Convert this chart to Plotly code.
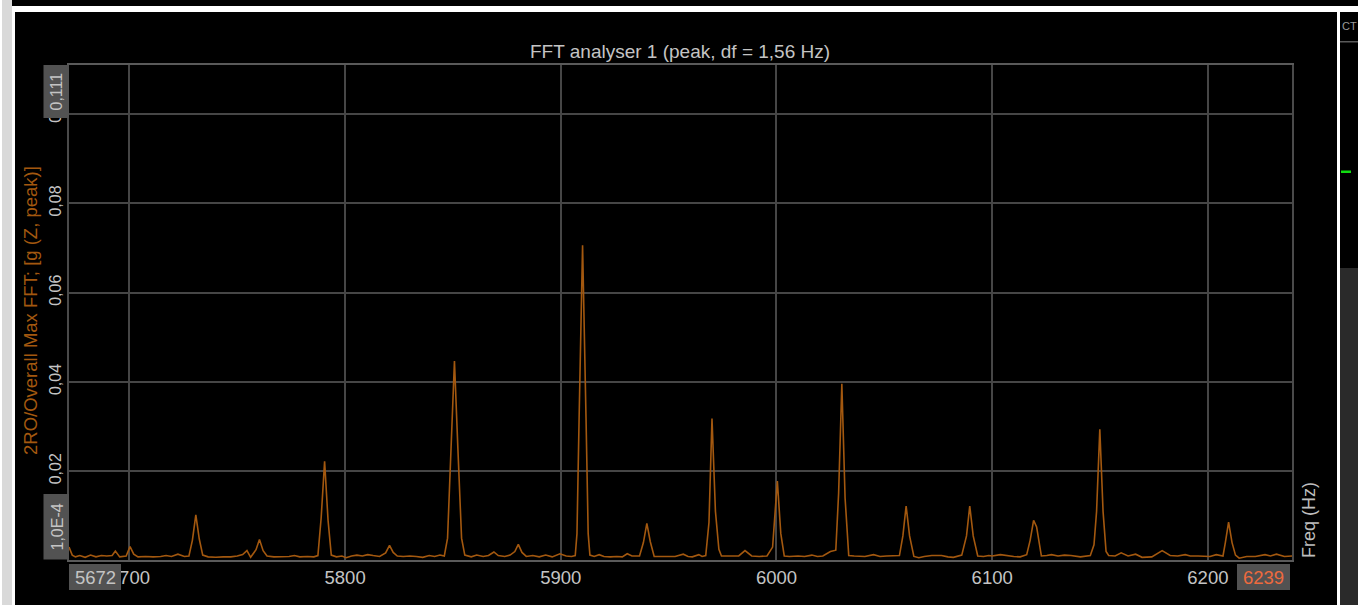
import plotly.graph_objects as go

# ---------------- data ----------------
freq_hz = [
    5672.0, 5673.5, 5675.0, 5677.0, 5679.5, 5682.0, 5684.5, 5687.0, 5689.5, 5692.0,
    5693.5, 5695.5, 5698.5, 5700.3, 5702.0, 5704.0, 5707.5, 5711.0, 5714.5, 5717.0,
    5719.5, 5722.5, 5725.5, 5727.6, 5729.2, 5730.8, 5732.4, 5734.0, 5736.5, 5740.0,
    5743.5, 5747.0, 5750.0, 5752.5, 5754.5, 5756.2, 5758.7, 5760.3, 5762.0, 5763.8,
    5767.0, 5770.5, 5774.0, 5776.5, 5779.0, 5782.5, 5785.5, 5787.4, 5788.9, 5790.5,
    5792.1, 5793.6, 5796.0, 5798.5, 5800.5, 5803.0, 5805.5, 5808.0, 5810.5, 5813.0,
    5816.0, 5818.8, 5820.6, 5822.3, 5824.2, 5827.0, 5830.0, 5833.0, 5836.0, 5839.0,
    5841.5, 5844.0, 5846.0, 5847.5, 5849.1, 5850.7, 5852.3, 5854.0, 5855.5, 5858.5,
    5861.0, 5864.0, 5866.5, 5869.0, 5871.0, 5874.0, 5876.5, 5878.7, 5880.3, 5882.0,
    5884.0, 5887.0, 5890.0, 5893.0, 5896.0, 5899.6, 5902.5, 5905.0, 5906.7, 5907.5,
    5908.5, 5910.1, 5911.7, 5912.7, 5913.5, 5915.5, 5917.8, 5920.0, 5923.0, 5926.0,
    5928.5, 5930.8, 5933.0, 5936.5, 5938.3, 5939.9, 5941.5, 5943.3, 5946.5, 5950.0,
    5953.0, 5956.8, 5959.0, 5961.0, 5964.0, 5965.5, 5967.2, 5968.7, 5970.1, 5971.7,
    5973.3, 5974.5, 5978.0, 5982.5, 5985.4, 5988.5, 5992.0, 5995.6, 5998.2, 6000.4,
    6002.0, 6003.6, 6006.0, 6010.0, 6013.0, 6016.4, 6019.0, 6021.5, 6025.0, 6027.5,
    6028.8, 6030.3, 6031.8, 6033.5, 6036.0, 6039.0, 6041.0, 6045.0, 6048.0, 6051.0,
    6055.8, 6057.0, 6058.6, 6060.1, 6061.7, 6063.7, 6066.0, 6068.5, 6072.0, 6076.5,
    6079.5, 6082.0, 6085.9, 6088.1, 6089.6, 6091.2, 6093.3, 6096.0, 6098.4, 6100.0,
    6103.8, 6107.5, 6110.0, 6113.0, 6116.0, 6117.6, 6119.2, 6120.6, 6122.8, 6125.3,
    6127.5, 6130.5, 6133.5, 6136.5, 6140.9, 6145.5, 6147.2, 6148.4, 6149.9, 6151.4,
    6152.8, 6154.0, 6157.0, 6159.8, 6163.0, 6166.5, 6169.5, 6174.0, 6178.8, 6182.5,
    6186.0, 6189.5, 6191.8, 6195.5, 6199.0, 6201.0, 6203.9, 6207.0, 6208.1, 6209.6,
    6211.2, 6212.8, 6214.5, 6218.0, 6222.0, 6226.5, 6229.0, 6231.8, 6235.5, 6239.0,
]

amp_g = [
    0.0030, 0.0012, 0.0008, 0.0011, 0.0007, 0.0012, 0.0008, 0.0011, 0.0010, 0.0011,
    0.0021, 0.0008, 0.0010, 0.0031, 0.0014, 0.0008, 0.0009, 0.0008, 0.0009, 0.0011,
    0.0009, 0.0014, 0.0009, 0.0010, 0.0045, 0.0102, 0.0048, 0.0012, 0.0008, 0.0007,
    0.0008, 0.0008, 0.0010, 0.0013, 0.0022, 0.0007, 0.0024, 0.0047, 0.0022, 0.0010,
    0.0008, 0.0008, 0.0009, 0.0011, 0.0008, 0.0009, 0.0008, 0.0011, 0.0095, 0.0222,
    0.0090, 0.0012, 0.0008, 0.0010, 0.0006, 0.0010, 0.0012, 0.0010, 0.0013, 0.0011,
    0.0009, 0.0017, 0.0034, 0.0018, 0.0010, 0.0009, 0.0010, 0.0009, 0.0007, 0.0011,
    0.0009, 0.0012, 0.0010, 0.0050, 0.0250, 0.0447, 0.0250, 0.0050, 0.0012, 0.0008,
    0.0012, 0.0009, 0.0011, 0.0019, 0.0011, 0.0009, 0.0012, 0.0020, 0.0036, 0.0018,
    0.0009, 0.0011, 0.0008, 0.0012, 0.0008, 0.0015, 0.0010, 0.0009, 0.0011, 0.0060,
    0.0320, 0.0706, 0.0320, 0.0060, 0.0012, 0.0009, 0.0013, 0.0009, 0.0008, 0.0009,
    0.0008, 0.0015, 0.0010, 0.0010, 0.0040, 0.0083, 0.0042, 0.0009, 0.0009, 0.0009,
    0.0009, 0.0014, 0.0009, 0.0008, 0.0013, 0.0009, 0.0011, 0.0085, 0.0318, 0.0110,
    0.0025, 0.0010, 0.0010, 0.0010, 0.0022, 0.0010, 0.0009, 0.0010, 0.0030, 0.0178,
    0.0060, 0.0010, 0.0009, 0.0010, 0.0009, 0.0012, 0.0009, 0.0010, 0.0020, 0.0023,
    0.0150, 0.0396, 0.0140, 0.0011, 0.0010, 0.0009, 0.0009, 0.0013, 0.0009, 0.0010,
    0.0012, 0.0011, 0.0055, 0.0122, 0.0055, 0.0009, 0.0006, 0.0009, 0.0011, 0.0011,
    0.0008, 0.0007, 0.0012, 0.0055, 0.0122, 0.0055, 0.0010, 0.0009, 0.0011, 0.0010,
    0.0013, 0.0010, 0.0009, 0.0008, 0.0013, 0.0045, 0.0090, 0.0075, 0.0010, 0.0011,
    0.0013, 0.0010, 0.0012, 0.0011, 0.0008, 0.0011, 0.0035, 0.0110, 0.0294, 0.0110,
    0.0020, 0.0011, 0.0010, 0.0017, 0.0010, 0.0014, 0.0007, 0.0008, 0.0022, 0.0011,
    0.0010, 0.0013, 0.0010, 0.0010, 0.0010, 0.0009, 0.0013, 0.0010, 0.0040, 0.0086,
    0.0040, 0.0012, 0.0005, 0.0009, 0.0009, 0.0013, 0.0010, 0.0014, 0.0009, 0.0010,
]

x_tick_vals = [5700, 5800, 5900, 6000, 6100, 6200]
x_tick_text = ["5700", "5800", "5900", "6000", "6100", "6200"]
y_tick_vals = [0.02, 0.04, 0.06, 0.08, 0.1]
y_tick_text = ["0,02", "0,04", "0,06", "0,08", "0,1"]

x_min, x_max = 5672, 6239
y_min, y_max = 0.0001, 0.111

title_text = "FFT analyser 1 (peak, df = 1,56 Hz)"
y_title = "2RO/Overall Max FFT; [g (Z, peak)]"
x_title = "Freq (Hz)"

# ---------------- layout helpers ----------------
W, H = 1369, 605
FONT = "Arial, 'Liberation Sans', sans-serif"
GRID = "#464646"
LABEL = "#c4c4c4"
ORANGE = "#a3580f"


def px(x):
    return x / W


def py(y):
    return 1 - y / H


def rect(x0, y0, x1, y1, color, layer="above"):
    return dict(type="rect", xref="paper", yref="paper",
                x0=px(x0), x1=px(x1), y0=py(y1), y1=py(y0),
                fillcolor=color, line=dict(width=0), layer=layer)


fig = go.Figure()
fig.add_trace(go.Scatter(
    x=freq_hz, y=amp_g, mode="lines",
    line=dict(color=ORANGE, width=1.6),
    hoverinfo="skip", showlegend=False,
))

shapes = [
    # window chrome
    rect(2, 0, 12, 605, "#d9d9d9", "below"),
    rect(12, 0, 1358, 6, "#000000", "below"),
    rect(15, 12, 1337, 605, "#000000", "below"),
    rect(1340, 12, 1358, 268, "#000000", "below"),
    rect(1340, 268, 1358, 605, "#2a2a2a", "below"),
    rect(1340, 41, 1358, 42.5, "#5a5a5a", "below"),
    rect(1341, 170.5, 1351, 173, "#11dd11", "below"),
    # min / max value boxes
    rect(43.5, 65, 69, 118, "#525252"),
    rect(43.5, 494, 69, 559.5, "#525252"),
    rect(69, 564, 121, 590, "#525252"),
    rect(1237, 564, 1290, 590, "#525252"),
]

annotations = [
    dict(text=title_text, x=px(680), y=py(52), xref="paper", yref="paper",
         showarrow=False, font=dict(family=FONT, size=19, color=LABEL),
         xanchor="center", yanchor="middle"),
    dict(text=y_title, x=px(30), y=py(311), xref="paper", yref="paper",
         showarrow=False, textangle=-90,
         font=dict(family=FONT, size=18.5, color=ORANGE),
         xanchor="center", yanchor="middle"),
    dict(text=x_title, x=px(1309), y=py(520), xref="paper", yref="paper",
         showarrow=False, textangle=-90,
         font=dict(family=FONT, size=18, color="#bdbdbd"),
         xanchor="center", yanchor="middle"),
    dict(text="0,111", x=px(56.5), y=py(92), xref="paper", yref="paper",
         showarrow=False, textangle=-90,
         font=dict(family=FONT, size=16, color=LABEL),
         xanchor="center", yanchor="middle"),
    dict(text="1,0E-4", x=px(56.5), y=py(527), xref="paper", yref="paper",
         showarrow=False, textangle=-90,
         font=dict(family=FONT, size=16, color=LABEL),
         xanchor="center", yanchor="middle"),
    dict(text="5672", x=px(95), y=py(577), xref="paper", yref="paper",
         showarrow=False, font=dict(family=FONT, size=18.5, color=LABEL),
         xanchor="center", yanchor="middle"),
    dict(text="6239", x=px(1263.5), y=py(577), xref="paper", yref="paper",
         showarrow=False, font=dict(family=FONT, size=18.5, color="#ee6a3e"),
         xanchor="center", yanchor="middle"),
    dict(text="CT", x=px(1349), y=py(26), xref="paper", yref="paper",
         showarrow=False, font=dict(family=FONT, size=11, color="#9a9a9a"),
         xanchor="center", yanchor="middle"),
]

fig.update_layout(
    width=W, height=H,
    margin=dict(l=0, r=0, t=0, b=0),
    paper_bgcolor="#ffffff",
    plot_bgcolor="#000000",
    separators=",.",
    shapes=shapes,
    annotations=annotations,
    font=dict(family=FONT, size=17, color=LABEL),
    xaxis=dict(
        domain=[px(69), px(1292)],
        range=[x_min, x_max],
        tickmode="array", tickvals=x_tick_vals, ticktext=x_tick_text,
        showgrid=True, gridcolor=GRID, gridwidth=1.5,
        showline=True, linecolor="#5a5a5a", linewidth=1.5, mirror=True,
        zeroline=False, ticks="",
        tickfont=dict(family=FONT, size=18.5, color=LABEL),
        fixedrange=True,
    ),
    yaxis=dict(
        domain=[py(560), py(65)],
        range=[y_min, y_max],
        tickmode="array", tickvals=y_tick_vals, ticktext=y_tick_text,
        tickangle=-90,
        showgrid=True, gridcolor=GRID, gridwidth=1.5,
        showline=True, linecolor="#4a4a4a", linewidth=1.5, mirror=True,
        zeroline=False, ticks="",
        tickfont=dict(family=FONT, size=16, color=LABEL),
        fixedrange=True,
    ),
)

fig.write_html("out.html", config={"displayModeBar": False})
